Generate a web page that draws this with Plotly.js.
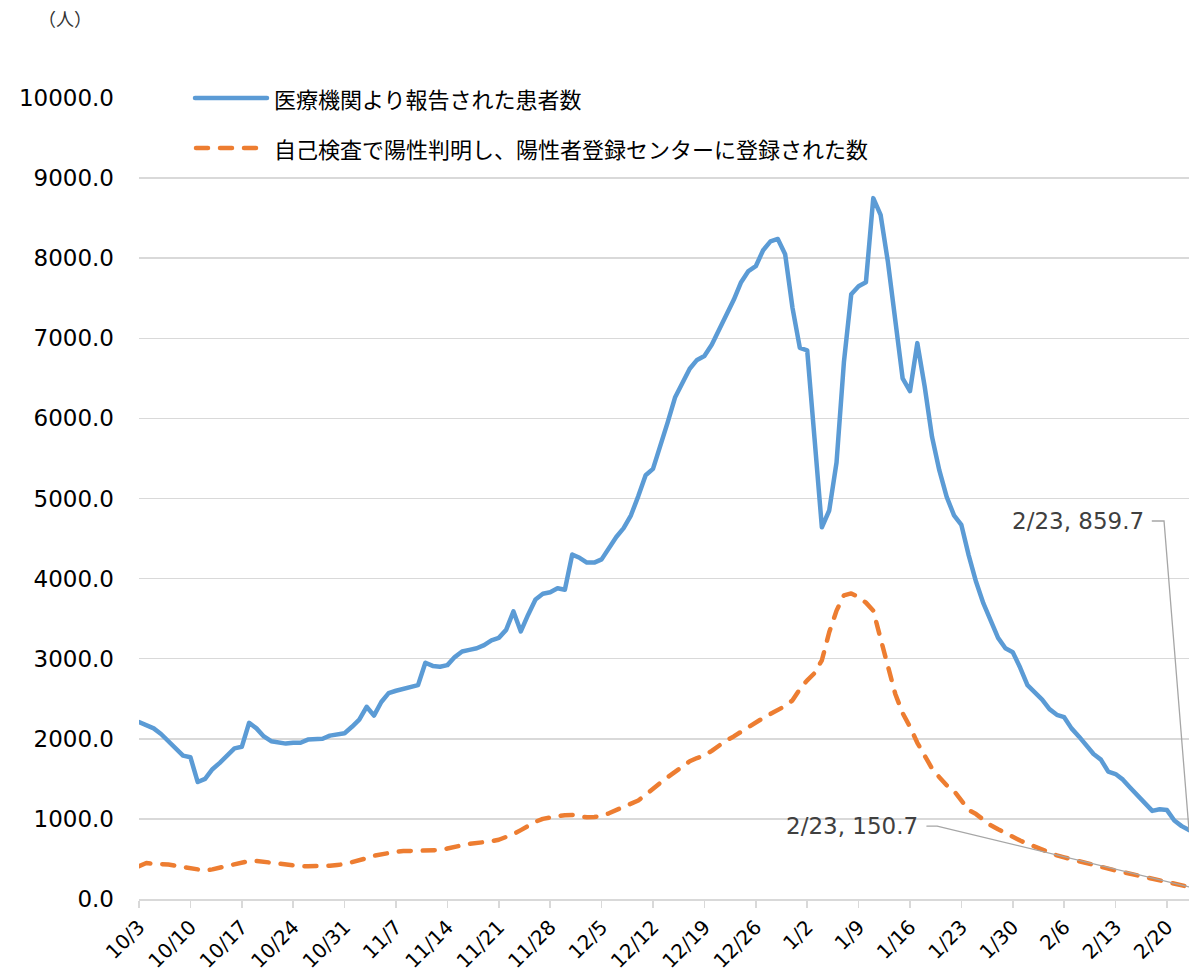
<!DOCTYPE html>
<html><head><meta charset="utf-8">
<script src="https://cdn.plot.ly/plotly-3.0.1.min.js"></script>
<style>
html,body{margin:0;padding:0;background:#fff;}
#chart{width:1196px;height:976px;}
.scatterlayer path.js-line{stroke-linecap:round;stroke-linejoin:round;}
.shapelayer path{stroke-linecap:round;}
</style></head><body><div id="chart"></div>
<script>
// ---- data ----
const seriesNames = ['医療機関より報告された患者数', '自己検査で陽性判明し、陽性者登録センターに登録された数'];
const yUnit = '（人）';

// daily category labels 10/3 ... 2/23
const months = [[10, 3, 31], [11, 1, 30], [12, 1, 31], [1, 1, 31], [2, 1, 23]];
const dates = [];
months.forEach(([m, d0, d1]) => { for (let d = d0; d <= d1; d++) dates.push(m + '/' + d); });

const tickLabels = ['10/3','10/10','10/17','10/24','10/31','11/7','11/14','11/21','11/28','12/5','12/12',
  '12/19','12/26','1/2','1/9','1/16','1/23','1/30','2/6','2/13','2/20'];

const medical = [
  2210, 2170, 2130, 2060, 1970, 1880, 1790, 1770, 1460, 1500,
  1620, 1700, 1790, 1880, 1900, 2200, 2130, 2030, 1970, 1950,
  1940, 1950, 1950, 1990, 2000, 2000, 2040, 2060, 2070, 2150,
  2240, 2400, 2290, 2460, 2570, 2600, 2620, 2650, 2670, 2950,
  2910, 2900, 2920, 3020, 3090, 3110, 3130, 3170, 3230, 3260,
  3360, 3590, 3340, 3550, 3740, 3810, 3830, 3880, 3860, 4300,
  4260, 4200, 4200, 4240, 4390, 4520, 4630, 4790, 5030, 5290,
  5370, 5650, 5950, 6260, 6440, 6620, 6730, 6780, 6920, 7100,
  7290, 7480, 7700, 7840, 7900, 8100, 8210, 8240, 8050, 7380,
  6880, 6850, 5750, 4640, 4850, 5450, 6700, 7550, 7650, 7700,
  8750, 8540, 7950, 7220, 6500, 6340, 6940, 6400, 5770, 5350,
  5020, 4790, 4670, 4290, 3960, 3690, 3460, 3260, 3130, 3080,
  2890, 2670, 2580, 2490, 2370, 2300, 2270, 2130, 2030, 1920,
  1810, 1740, 1590, 1560, 1490, 1390, 1290, 1190, 1100, 1120,
  1110, 980, 910, 859.7
];

const selfTest = [
  410, 450, 440, 440, 430, 415, 400, 380, 360, 355,
  370, 390, 410, 440, 460, 475, 475, 465, 450, 435,
  425, 415, 410, 410, 410, 410, 415, 425, 435, 460,
  480, 510, 540, 560, 580, 590, 598, 600, 603, 605,
  605, 610, 630, 655, 670, 690, 697, 705, 720, 740,
  770, 810, 860, 920, 965, 1000, 1020, 1035, 1045, 1050,
  1030, 1020, 1025, 1035, 1070, 1110, 1150, 1190, 1230, 1300,
  1380, 1450, 1520, 1590, 1660, 1720, 1760, 1790, 1850, 1920,
  1980, 2030, 2090, 2150, 2210, 2260, 2310, 2360, 2410, 2480,
  2620, 2730, 2820, 2980, 3330, 3600, 3790, 3815, 3770, 3700,
  3600, 3250, 2880, 2560, 2320, 2150, 1950, 1780, 1630, 1520,
  1420, 1350, 1230, 1110, 1060, 990, 920, 870, 820, 780,
  730, 690, 650, 610, 580, 545, 520, 495, 470, 450,
  425, 400, 375, 355, 335, 315, 293, 270, 250, 230,
  210, 190, 170, 150.7
];

// ---- chart ----
const idx = dates.map((_, i) => i);
const tickvals = tickLabels.map(t => dates.indexOf(t));
const last = dates.length - 1;
const BLUE = '#5b9bd5', ORANGE = '#ed7d31', GRID = '#d9d9d9';
const NUMFONT = 'DejaVu Sans, Verdana, sans-serif';
const JPFONT = 'Noto Sans CJK JP, sans-serif';
const DASH = '12px,12px';

const traces = [
  {x: idx, y: medical, type: 'scatter', mode: 'lines', name: seriesNames[0],
   line: {color: BLUE, width: 4.5}, hoverinfo: 'skip'},
  {x: idx, y: selfTest, type: 'scatter', mode: 'lines', name: seriesNames[1],
   line: {color: ORANGE, width: 4.5, dash: DASH}, hoverinfo: 'skip'}
];

const W = 1196, H = 976, L = 139, R = 7, T = 98, B = 77;
const pw = W - L - R, ph = H - T - B;
const px = v => (v - L) / pw;          // pixel -> paper x (legend/label placement)
const py = v => (H - B - v) / ph;      // pixel -> paper y

const lbl1 = dates[last] + ', ' + medical[last].toFixed(1);
const lbl2 = dates[last] + ', ' + selfTest[last].toFixed(1);

const layout = {
  width: W, height: H,
  margin: {l: L, r: R, t: T, b: B},
  paper_bgcolor: '#fff', plot_bgcolor: '#fff',
  showlegend: false,
  xaxis: {
    range: [0, last], tickmode: 'array', tickvals: tickvals, ticktext: tickLabels,
    tickangle: -45, ticks: 'outside', ticklen: 7, tickwidth: 1.5, tickcolor: GRID,
    showline: true, linecolor: GRID, linewidth: 1.5, showgrid: false, zeroline: false,
    tickfont: {family: NUMFONT, size: 20, color: '#000'}
  },
  yaxis: {
    range: [0, 10000], dtick: 1000, tickformat: '.1f',
    showgrid: true, gridcolor: GRID, gridwidth: 1.5, zeroline: false, showline: false,
    ticks: '', ticklabelstandoff: 24,
    tickfont: {family: NUMFONT, size: 23, color: '#000'}
  },
  shapes: [
    {type: 'line', xref: 'paper', yref: 'paper', x0: px(195), x1: px(267), y0: py(98), y1: py(98),
     line: {color: BLUE, width: 4.5}},
    {type: 'line', xref: 'paper', yref: 'paper', x0: px(196), x1: px(262), y0: py(148), y1: py(148),
     line: {color: ORANGE, width: 4.5, dash: DASH}},
    {type: 'path', xref: 'x', yref: 'y', line: {color: '#a6a6a6', width: 1.3},
     path: `M 138.0,4719 L 139.6,4719 L ${last},${medical[last]}`},
    {type: 'path', xref: 'x', yref: 'y', line: {color: '#a6a6a6', width: 1.3},
     path: `M 107.3,911 L 108.7,911 L ${last},${selfTest[last]}`}
  ],
  annotations: [
    {xref: 'paper', yref: 'paper', x: px(65), y: py(18), text: yUnit, showarrow: false,
     xanchor: 'center', yanchor: 'middle', font: {family: JPFONT, size: 18, color: '#333'}},
    {xref: 'paper', yref: 'paper', x: px(272), y: py(98), text: seriesNames[0], showarrow: false,
     xanchor: 'left', yanchor: 'middle', font: {family: JPFONT, size: 22, color: '#000'}},
    {xref: 'paper', yref: 'paper', x: px(272), y: py(148), text: seriesNames[1], showarrow: false,
     xanchor: 'left', yanchor: 'middle', font: {family: JPFONT, size: 22, color: '#000'}},
    {xref: 'x', yref: 'y', x: 137.2, y: 4719, text: lbl1, showarrow: false,
     xanchor: 'right', yanchor: 'middle', font: {family: NUMFONT, size: 23, color: '#404040'}},
    {xref: 'x', yref: 'y', x: 106.4, y: 911, text: lbl2, showarrow: false,
     xanchor: 'right', yanchor: 'middle', font: {family: NUMFONT, size: 23, color: '#404040'}}
  ]
};

Plotly.newPlot('chart', traces, layout, {staticPlot: true, displayModeBar: false});
</script></body></html>
